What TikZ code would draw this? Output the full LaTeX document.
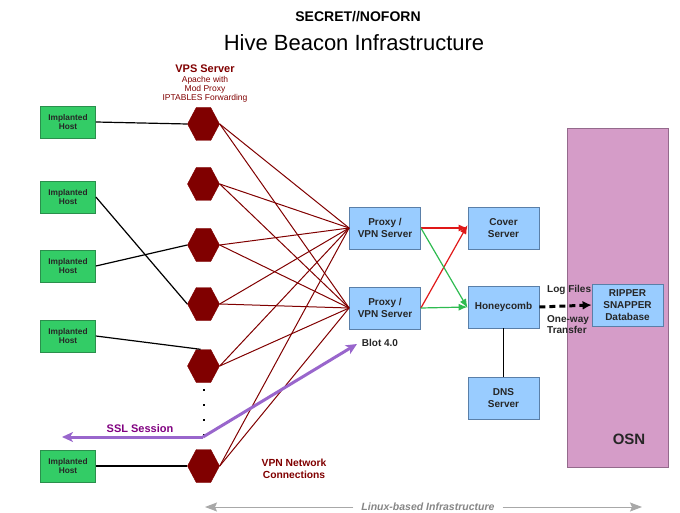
\documentclass[tikz,border=0pt]{standalone}
\usepackage{fontspec}
\setmainfont{Liberation Sans}
\usetikzlibrary{shapes.symbols,arrows.meta,calc}
\definecolor{hexred}{HTML}{800000}
\definecolor{hostgreen}{HTML}{33CC66}
\definecolor{hostborder}{HTML}{2A8F4C}
\definecolor{boxblue}{HTML}{99CCFF}
\definecolor{boxborder}{HTML}{5A7FA8}
\definecolor{osnfill}{HTML}{D59CC8}
\definecolor{osnborder}{HTML}{946A8C}
\definecolor{sslline}{HTML}{9966CC}
\definecolor{ssltext}{HTML}{800080}
\definecolor{linuxgray}{HTML}{A8A8A8}
\definecolor{fwdred}{HTML}{E01818}
\definecolor{fwdgreen}{HTML}{2EBB50}
\begin{document}
\begin{tikzpicture}[x=1pt,y=-1pt,
  host/.style={draw=hostborder, fill=hostgreen, line width=0.8pt, minimum width=55pt, minimum height=32pt, inner sep=0pt, align=center, font=\bfseries\fontsize{8.3}{9.8}\selectfont, text=black!85},
  hexnode/.style={shape=signal, signal to=east and west, signal pointer angle=124, fill=hexred, draw=hexred, minimum width=32pt, minimum height=33pt, inner sep=0pt},
  srv/.style={draw=boxborder, fill=boxblue, line width=0.8pt, minimum width=71pt, minimum height=42pt, inner sep=0pt, align=center, font=\bfseries\fontsize{10}{12}\selectfont, text=black!85},
  vpnline/.style={hexred, line width=1pt},
  hostline/.style={black, line width=1.2pt},
  fwd/.style={line width=1.2pt, -{Latex[length=9pt,width=7pt]}},
  lbl/.style={inner sep=0pt, align=center}
]
\useasboundingbox (0,0) rectangle (680,513);

% titles
\node[lbl, font=\bfseries\fontsize{14}{16}\selectfont] (sec) at (358,17) {SECRET//NOFORN};
\node[lbl, font=\fontsize{22}{26}\selectfont] (title) at (354,43) {Hive Beacon Infrastructure};

% VPS label
\node[lbl, text=hexred, font=\bfseries\fontsize{11}{13}\selectfont] (vps) at (205,69) {VPS Server};
\node[lbl, text=hexred, font=\fontsize{8.5}{9}\selectfont] (vpsdesc) at (205,89) {Apache with\\Mod Proxy\\IPTABLES Forwarding};

% OSN region
\node[draw=osnborder, fill=osnfill, line width=0.8pt, minimum width=101pt, minimum height=339pt, inner sep=0pt] (osn) at (617.5,297.5) {};
\node[lbl, font=\bfseries\fontsize{15}{17}\selectfont, text=black!85] (osnlbl) at (629,439) {OSN};

% hosts
\node[host] (h1) at (68,122) {Implanted\\Host};
\node[host] (h2) at (68,197) {Implanted\\Host};
\node[host] (h3) at (68,266) {Implanted\\Host};
\node[host] (h4) at (68,336) {Implanted\\Host};
\node[host] (h5) at (68,466) {Implanted\\Host};

% hexagons
\node[hexnode] (x1) at (203.5,124) {};
\node[hexnode] (x2) at (203.5,184) {};
\node[hexnode] (x3) at (203.5,245) {};
\node[hexnode] (x4) at (203.5,304) {};
\node[hexnode] (x5) at (203.5,366) {};
\node[hexnode] (x6) at (203.5,466) {};

% servers
\node[srv] (p1) at (385,228) {Proxy /\\VPN Server};
\node[srv] (p2) at (385,308) {Proxy /\\VPN Server};
\node[srv] (cover) at (503.5,228) {Cover\\Server};
\node[srv] (honey) at (503.5,307) {Honeycomb};
\node[srv] (dns) at (503.5,398.5) {DNS\\Server};
\node[srv] (ripper) at (627.5,305) {RIPPER\\SNAPPER\\Database};

% host to hexagon
\draw[hostline] (h1.east) -- (x1.west);
\draw[hostline] (h2.east) -- (x4.west);
\draw[hostline] (h3.east) -- (x3.west);
\draw[hostline] (h4.east) -- ([xshift=-3pt]x5.north);
\draw[hostline] (h5.east) -- (x6.west);

% VPN connections
\foreach \h in {x1,x2,x3,x4,x5,x6}{
  \draw[vpnline] (\h.east) -- (p1.west);
  \draw[vpnline] (\h.east) -- (p2.west);
}

% dots
\foreach \yy in {390,405,420,435}{
  \fill (202.8,\yy-1.2) rectangle (205.2,\yy+1.2);
}

% forwarding
\draw[fwd, fwdred] (p1.east) -- (cover.west);
\draw[fwd, fwdred] (p2.east) -- ([yshift=3pt]cover.west);
\draw[fwd, fwdgreen] (p1.east) -- ([yshift=-1pt]honey.west);
\draw[fwd, fwdgreen] (p2.east) -- (honey.west);
\draw[black, line width=1.5pt] (honey.south) -- (dns.north);

% log transfer
\draw[black, line width=3pt, dash pattern=on 6pt off 4pt, -{Latex[length=9pt,width=9pt]}] (honey.east) -- (ripper.west);
\node[lbl, anchor=west, font=\bfseries\fontsize{10}{12}\selectfont, text=black!85] (logf) at (547,290) {Log Files};
\node[lbl, anchor=west, align=left, font=\bfseries\fontsize{10}{11}\selectfont, text=black!85] (oneway) at (547,325) {One-way\\Transfer};

% SSL session
\node[lbl, font=\bfseries\fontsize{10}{12}\selectfont, text=black!85] (blot) at (380,343) {Blot 4.0};
\coordinate (sslbend) at (203,437);
\coordinate (sslleft) at (62,437);
\coordinate (sslright) at (357,344);
\draw[sslline, line width=3pt, -{Stealth[length=11pt,width=10pt,inset=3pt]}] (sslbend) -- (sslleft);
\draw[sslline, line width=3pt, -{Stealth[length=11pt,width=10pt,inset=3pt]}] (sslbend) -- (sslright);
\node[lbl, text=ssltext, font=\bfseries\fontsize{11}{13}\selectfont] (ssl) at (140,429) {SSL Session};

\node[lbl, text=hexred, font=\bfseries\fontsize{10.3}{12}\selectfont] (vpnc) at (294,469) {VPN Network\\Connections};

% Linux-based infrastructure
\node[lbl, text=linuxgray!80!black, font=\itshape\bfseries\fontsize{10.5}{12}\selectfont] (linux) at (428,507) {Linux-based Infrastructure};
\coordinate (lleft) at (205,507);
\coordinate (lright) at (642,507);
\draw[linuxgray, line width=1pt, -{Stealth[length=12pt,width=9pt,inset=2pt]}] ([xshift=-8pt]linux.west) -- (lleft);
\draw[linuxgray, line width=1pt, -{Stealth[length=12pt,width=9pt,inset=2pt]}] ([xshift=8pt]linux.east) -- (lright);
\end{tikzpicture}
\end{document}
